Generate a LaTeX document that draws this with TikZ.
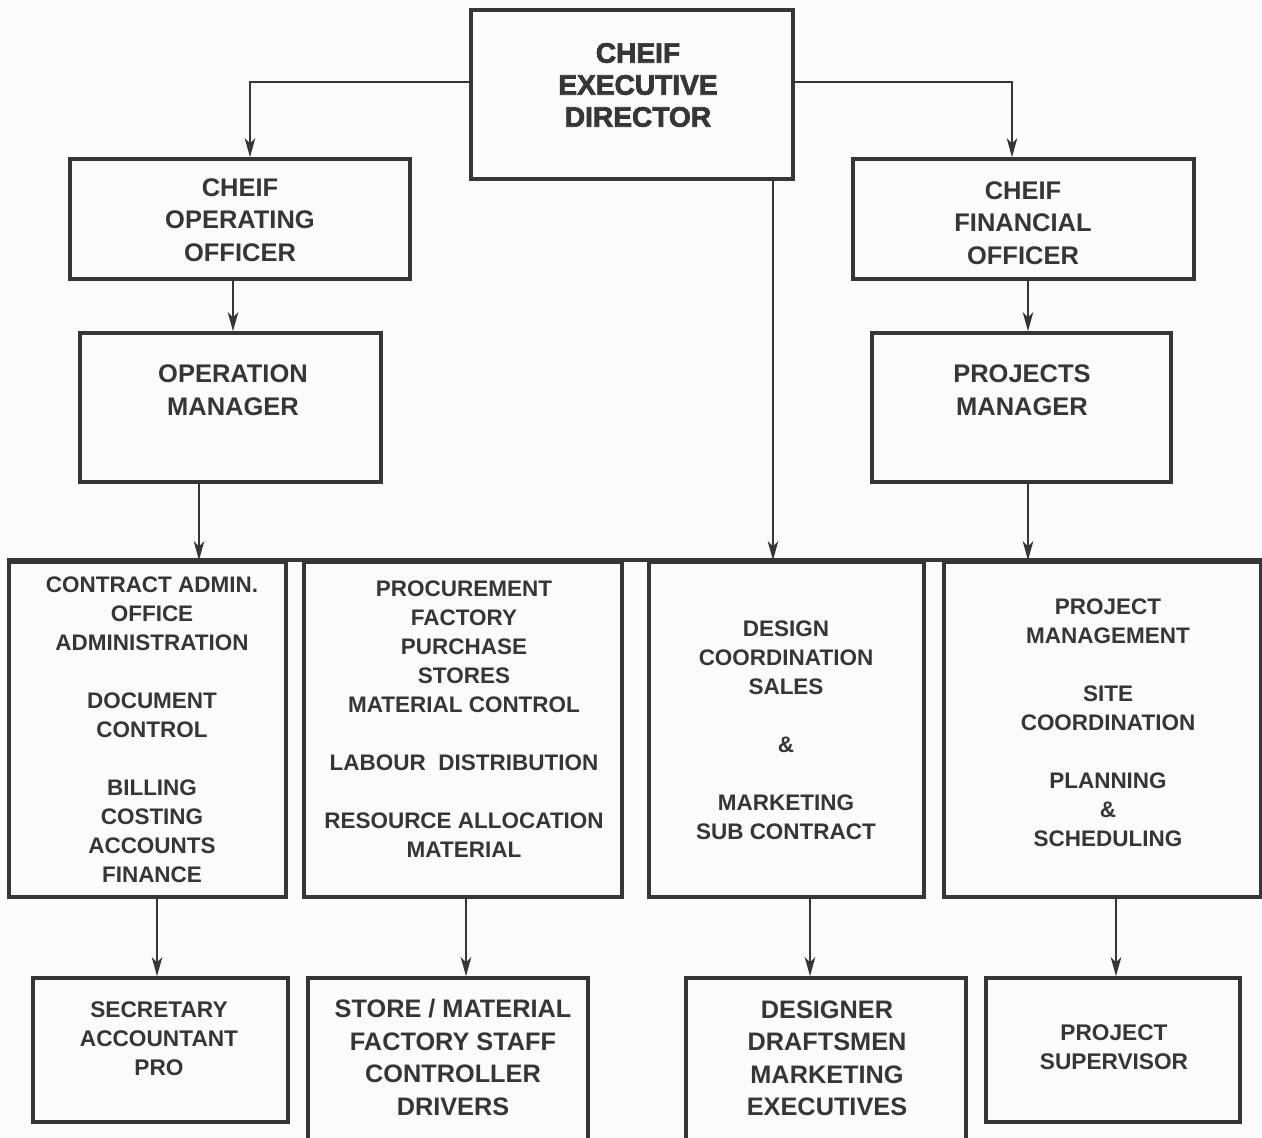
\documentclass[tikz,border=0pt]{standalone}
\usepackage{fontspec}
\setmainfont{Liberation Sans}
\newfontfamily\blackfont{Liberation Sans Bold}[FakeBold=2.5]
\usetikzlibrary{arrows.meta}

\definecolor{inkgray}{HTML}{363636}
\definecolor{paper}{HTML}{FCFBFC}

\tikzset{
    box/.style 2 args={draw=inkgray, line width=2pt, inner sep=0pt,
        minimum width=#1*0.02cm, minimum height=#2*0.02cm},
    link/.style={draw=inkgray, line width=1.1pt},
    basetxt/.style={text=inkgray, align=center, inner sep=0pt},
    cedtxt/.style={basetxt, font=\blackfont\fontsize{16}{18.2}\selectfont},
    midtxt/.style={basetxt, font=\bfseries\fontsize{14.5}{18.5}\selectfont},
    rowtxt/.style={basetxt, font=\bfseries\fontsize{12.8}{16.5}\selectfont},
    subtxt/.style={basetxt, font=\bfseries\fontsize{12.9}{16.5}\selectfont},
    bigsubtxt/.style={basetxt, font=\bfseries\fontsize{14.4}{18.5}\selectfont}
}

\begin{document}
\begin{tikzpicture}[x=0.02cm, y=-0.02cm, >={Stealth[length=0.38cm, width=0.21cm, inset=0.1cm]}]
    % AREA
    \useasboundingbox (0,0) rectangle (1262,1138);
    \fill[paper] (0,0) rectangle (1262,1138);
    \clip (0,0) rectangle (1262,1138);

    % 1. DIRETTORE
    \node[box={322}{169}] (ced) at (632,94.5) {};
    \node[cedtxt] (ced_txt) at (638,85) {CHEIF\\EXECUTIVE\\DIRECTOR};

    % 2. LIVELLO OFFICER
    \node[box={340}{120}] (coo) at (240,219) {};
    \node[midtxt] (coo_txt) at (240,220) {CHEIF\\OPERATING\\OFFICER};
    \node[box={341}{120}] (cfo) at (1023.5,219) {};
    \node[midtxt] (cfo_txt) at (1023,223) {CHEIF\\FINANCIAL\\OFFICER};

    % 3. MANAGER
    \node[box={301}{149}] (om) at (230.5,407.5) {};
    \node[midtxt] (om_txt) at (233,390) {OPERATION\\MANAGER};
    \node[box={299}{149}] (pm) at (1021.5,407.5) {};
    \node[midtxt] (pm_txt) at (1022,390) {PROJECTS\\MANAGER};

    % 4. REPARTI
    \node[box={277}{335}] (admin) at (147.5,729.5) {};
    \node[rowtxt] (admin_txt) at (152,730) {CONTRACT ADMIN.\\OFFICE\\ADMINISTRATION\\[16.5pt]DOCUMENT\\CONTROL\\[16.5pt]BILLING\\COSTING\\ACCOUNTS\\FINANCE};
    \node[box={318}{335}] (procure) at (463,729.5) {};
    \node[rowtxt] (procure_txt) at (464,719.5) {PROCUREMENT\\FACTORY\\PURCHASE\\STORES\\MATERIAL CONTROL\\[16.5pt]LABOUR\ \ DISTRIBUTION\\[16.5pt]RESOURCE ALLOCATION\\MATERIAL};
    \node[box={275}{335}] (design) at (786.5,729.5) {};
    \node[rowtxt] (design_txt) at (786,730) {DESIGN\\COORDINATION\\SALES\\[16.5pt]\&\\[16.5pt]MARKETING\\SUB CONTRACT};
    \node[box={317}{335}] (projmgmt) at (1102.5,729.5) {};
    \node[rowtxt] (projmgmt_txt) at (1108,722.5) {PROJECT\\MANAGEMENT\\[16.5pt]SITE\\COORDINATION\\[16.5pt]PLANNING\\\&\\SCHEDULING};
    \draw[link, line width=2pt] (admin.north west) -- (projmgmt.north east);

    % 5. PERSONALE
    \node[box={255}{144}] (office) at (160.5,1050) {};
    \node[subtxt] (office_txt) at (159,1039) {SECRETARY\\ACCOUNTANT\\PRO};
    \node[box={280}{180}] (store) at (448,1068) {};
    \node[bigsubtxt] (store_txt) at (453,1057.5) {STORE / MATERIAL\\FACTORY STAFF\\CONTROLLER\\DRIVERS};
    \node[box={280}{180}] (drafting) at (826,1068) {};
    \node[bigsubtxt] (drafting_txt) at (827,1058.5) {DESIGNER\\DRAFTSMEN\\MARKETING\\EXECUTIVES};
    \node[box={254}{144}] (site) at (1113,1050) {};
    \node[subtxt] (site_txt) at (1114,1047.5) {PROJECT\\SUPERVISOR};

    % 6. COLLEGAMENTI
    \draw[link, ->] ([yshift=0.25cm]ced.west) -| ([xshift=0.2cm]coo.north);
    \draw[link, ->] ([yshift=0.25cm]ced.east) -| ([xshift=-0.23cm]cfo.north);
    \draw[link, ->] ([xshift=0.05cm]om.north |- coo.south) -- ([xshift=0.05cm]om.north);
    \draw[link, ->] ([xshift=0.13cm]pm.north |- cfo.south) -- ([xshift=0.13cm]pm.north);
    \draw[link, ->] ([xshift=-0.63cm]om.south) -- ([xshift=-0.63cm]om.south |- admin.north);
    \draw[link, ->, line width=0.8pt] ([xshift=2.82cm]ced.south) -- ([xshift=2.82cm]ced.south |- design.north);
    \draw[link, ->] ([xshift=0.13cm]pm.south) -- ([xshift=0.13cm]pm.south |- projmgmt.north);
    \draw[link, ->] ([xshift=-0.07cm]office.north |- admin.south) -- ([xshift=-0.07cm]office.north);
    \draw[link, ->] ([xshift=0.06cm]procure.south) -- ([xshift=0.06cm]procure.south |- store.north);
    \draw[link, ->] ([xshift=-0.32cm]drafting.north |- design.south) -- ([xshift=-0.32cm]drafting.north);
    \draw[link, ->] ([xshift=0.06cm]site.north |- projmgmt.south) -- ([xshift=0.06cm]site.north);

\end{tikzpicture}
\end{document}
